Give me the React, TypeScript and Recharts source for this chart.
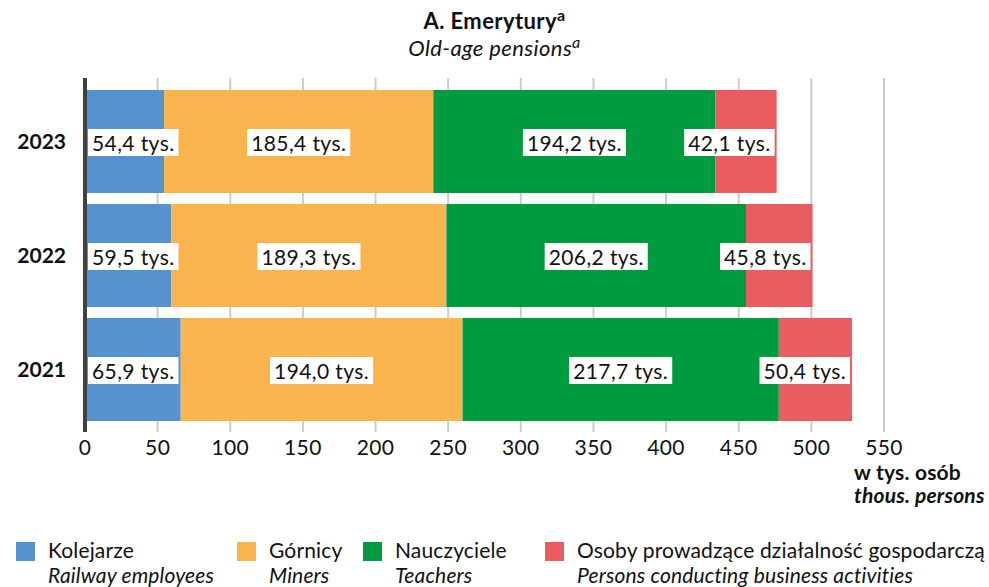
import React from "react";
import { Bar, BarChart, CartesianGrid, LabelList, XAxis, YAxis } from "recharts";

const years = ["2023", "2022", "2021"];
const railway = [54.4, 59.5, 65.9];
const miners = [185.4, 189.3, 194.0];
const teachers = [194.2, 206.2, 217.7];
const business = [42.1, 45.8, 50.4];
const xTicks = [0, 50, 100, 150, 200, 250, 300, 350, 400, 450, 500, 550];

const series = [
  { key: "railway", pl: "Kolejarze", en: "Railway employees", color: "#5592cf", values: railway },
  { key: "miners", pl: "Górnicy", en: "Miners", color: "#f9b44e", values: miners },
  { key: "teachers", pl: "Nauczyciele", en: "Teachers", color: "#009a3f", values: teachers },
  { key: "business", pl: "Osoby prowadzące działalność gospodarczą", en: "Persons conducting business activities", color: "#ea5c60", values: business },
];

const legendX = [16, 237, 363, 545];

const data = years.map((year, i) => ({
  year,
  railway: railway[i],
  miners: miners[i],
  teachers: teachers[i],
  business: business[i],
}));

const FONT = "Lato, 'Noto Sans', sans-serif";
const LS = 0.4;

let ctx: CanvasRenderingContext2D | null = null;
function textWidth(s: string) {
  if (!ctx) ctx = document.createElement("canvas").getContext("2d");
  if (!ctx) return s.length * 10;
  ctx.font = "21px Lato";
  return ctx.measureText(s).width + LS * s.length;
}

const fmt = (v: number) => v.toFixed(1).replace(".", ",") + " tys.";

// label box centred on its segment, but kept inside the whole stacked bar
function makeLabel(seriesIdx: number) {
  return function BoxLabel(props: any) {
    const { x, y, width, height, value, index } = props;
    const v = Number(value);
    const ppu = v ? Number(width) / v : 0;
    const before = series.slice(0, seriesIdx).reduce((a, s) => a + s.values[index], 0);
    const total = series.reduce((a, s) => a + s.values[index], 0);
    const barStart = Number(x) - before * ppu;
    const barEnd = barStart + total * ppu;

    const text = fmt(v);
    const w = textWidth(text) + 8;
    const h = 27;
    let left = Number(x) + Number(width) / 2 - w / 2;
    if (left + w > barEnd - 2) left = barEnd - 2 - w;
    if (left < barStart + 3) left = barStart + 3;
    const cx = left + w / 2;
    const cy = Number(y) + Number(height) / 2 + 1;
    return (
      <g>
        <rect x={left} y={cy - h / 2} width={w} height={h} fill="#ffffff" />
        <text
          x={cx}
          y={cy}
          textAnchor="middle"
          dominantBaseline="central"
          fontSize={21}
          letterSpacing={LS}
          fontFamily={FONT}
          fill="#111"
        >
          {text}
        </text>
      </g>
    );
  };
}

export default function App() {
  return (
    <div style={{ position: "absolute", left: 0, top: 0, width: 989, height: 587, fontFamily: FONT, color: "#111", background: "#fff", overflow: "hidden" }}>
      <div style={{ position: "absolute", left: 0, top: 8, width: 989, textAlign: "center", fontSize: 22, fontWeight: 700, lineHeight: "26px", letterSpacing: 0.4 }}>
        A. Emerytury<span style={{ fontSize: 16, position: "relative", top: -8 }}>a</span>
      </div>
      <div style={{ position: "absolute", left: 0, top: 35, width: 989, textAlign: "center", fontSize: 22, fontStyle: "italic", lineHeight: "26px", letterSpacing: 0.4 }}>
        Old-age pensions<span style={{ fontSize: 16, position: "relative", top: -8 }}>a</span>
      </div>

      <div style={{ position: "absolute", left: 0, top: 0 }}>
        <BarChart
          width={989}
          height={470}
          data={data}
          layout="vertical"
          barCategoryGap={5.5}
          margin={{ top: 78, right: 105, bottom: 8, left: 0 }}
        >
          <CartesianGrid horizontal={false} stroke="#cccccc" strokeWidth={2} />
          <XAxis
            type="number"
            domain={[0, 550]}
            ticks={xTicks}
            interval={0}
            axisLine={false}
            tickLine={false}
            tickSize={0}
            tickMargin={8}
            height={30}
            tick={{ fill: "#111", fontSize: 21, fontFamily: FONT, letterSpacing: LS }}
          />
          <YAxis
            type="category"
            dataKey="year"
            width={85}
            padding={{ top: 6.5, bottom: 5.5 }}
            axisLine={{ stroke: "#404040", strokeWidth: 4 }}
            tickLine={false}
            tickSize={0}
            tickMargin={19}
            tick={{ fill: "#111", fontSize: 21, fontWeight: 700, fontFamily: FONT }}
          />
          {series.map((s, i) => (
            <Bar key={s.key} dataKey={s.key} stackId="a" fill={s.color} isAnimationActive={false}>
              <LabelList dataKey={s.key} content={makeLabel(i)} />
            </Bar>
          ))}
        </BarChart>
      </div>

      <div style={{ position: "absolute", left: 854, top: 460, fontSize: 21, fontWeight: 700, lineHeight: "23px", letterSpacing: 0.2, whiteSpace: "nowrap" }}>
        <div>w tys. osób</div>
        <div style={{ fontStyle: "italic" }}>thous. persons</div>
      </div>

      {series.map((s, i) => (
        <div key={s.key} style={{ position: "absolute", left: legendX[i], top: 542 }}>
          <div style={{ position: "absolute", left: 0, top: 0, width: 19, height: 19, background: s.color }} />
          <div style={{ position: "absolute", left: 32, top: -5.4, whiteSpace: "nowrap", fontSize: 21, lineHeight: "25.2px", letterSpacing: 0.15 }}>
            <div>{s.pl}</div>
            <div style={{ fontStyle: "italic" }}>{s.en}</div>
          </div>
        </div>
      ))}
    </div>
  );
}
